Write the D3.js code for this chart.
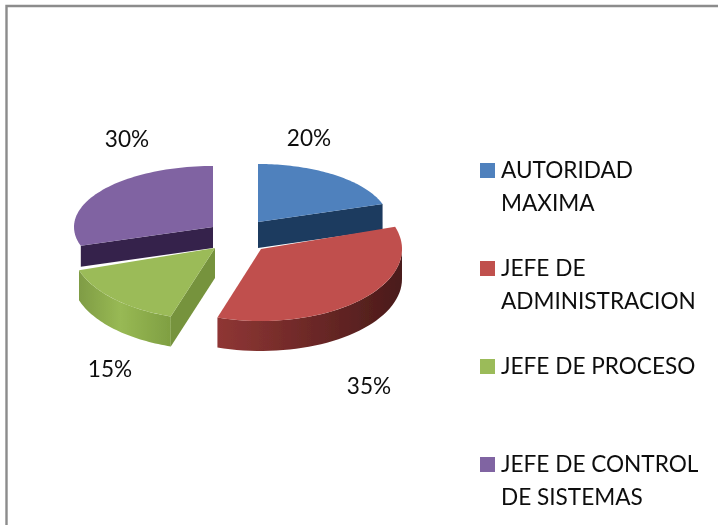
<!DOCTYPE html>
<html><head><meta charset="utf-8">
<script src="https://cdnjs.cloudflare.com/ajax/libs/d3/7.9.0/d3.min.js"></script>
<style>html,body{margin:0;padding:0;background:#fff}svg{display:block}text{font-family:Lato,"Open Sans",sans-serif;fill:#111}</style>
</head><body><div id="c"></div>
<script>
const categories = ["AUTORIDAD MAXIMA","JEFE DE ADMINISTRACION","JEFE DE PROCESO","JEFE DE CONTROL DE SISTEMAS"];
const legendLines = [["AUTORIDAD","MAXIMA"],["JEFE DE","ADMINISTRACION"],["JEFE DE PROCESO"],["JEFE DE CONTROL","DE SISTEMAS"]];
const values = [20,35,15,30];
const topColors = ["#4f81bd","#c0504d","#9bbb59","#8064a2"];
const wallStops = [null,["#8f3634","#4a1b1a"],["#7f9c45","#7f9f42"],null];
const cutColors = ["#1b3a5f",null,"#76933c","#36244b"];
const cutEdge = ["end",null,"start","start"];
const centers = [[258,222],[261,249],[215,248],[213,227]];
const radii = [[131,58],[141,72],[143,72],[139,61]];
const depths = [26,30,30,21];
const labelPos = [[309,146],[369,394],[110,377],[127,147]];
const W=718,H=525;
const svg=d3.select("#c").append("svg").attr("width",W).attr("height",H);
const defs=svg.append("defs");
defs.append("filter").attr("id","soft").append("feGaussianBlur").attr("stdDeviation",0.6);
defs.append("filter").attr("id","softText").append("feGaussianBlur").attr("stdDeviation",0.3);
svg.append("path").attr("d",`M6.5,${H} V6 H718`).attr("fill","none").attr("stroke","#8c8c8c").attr("stroke-width",2.4);

const arcs=d3.pie().sort(null)(values);
const pt=(i,a,dz=0)=>[centers[i][0]+radii[i][0]*Math.sin(a),centers[i][1]-radii[i][1]*Math.cos(a)+dz];
const line=d3.line();
const pie=svg.append("g").attr("filter","url(#soft)");
[3,0,2,1].forEach(i=>{
  const d=arcs[i],s=d.startAngle,e=d.endAngle,dz=depths[i],c=centers[i];
  const g=pie.append("g");
  if(wallStops[i]){
    const lo=Math.max(s,Math.PI/2),hi=Math.min(e,Math.PI*1.5);
    const id="wall"+i,x0=pt(i,lo)[0],x1=pt(i,hi)[0];
    const gr=defs.append("linearGradient").attr("id",id).attr("gradientUnits","userSpaceOnUse")
      .attr("x1",Math.max(x0,x1)).attr("x2",Math.min(x0,x1)).attr("y1",0).attr("y2",0);
    gr.append("stop").attr("offset",0).attr("stop-color",wallStops[i][1]);
    if(i===2) gr.append("stop").attr("offset",0.55).attr("stop-color","#98b954");
    gr.append("stop").attr("offset",1).attr("stop-color",wallStops[i][0]);
    const as=d3.range(0,41).map(k=>lo+(hi-lo)*k/40);
    const pts=as.map(a=>pt(i,a)).concat(as.slice().reverse().map(a=>pt(i,a,dz)));
    g.append("path").attr("d",line(pts)+"Z").attr("fill",`url(#${id})`);
  }
  if(cutColors[i]){
    const a=cutEdge[i]==="start"?s:e;
    g.append("path").attr("d",line([c,pt(i,a),pt(i,a,dz),[c[0],c[1]+dz]])+"Z").attr("fill",cutColors[i]);
  }
  const as=d3.range(0,61).map(k=>s+(e-s)*k/60);
  g.append("path").attr("d",line([c].concat(as.map(a=>pt(i,a))))+"Z").attr("fill",topColors[i]);
});
const texts=svg.append("g").attr("filter","url(#softText)");
texts.append("g").selectAll("text").data(values).join("text")
  .attr("x",(d,i)=>labelPos[i][0]).attr("y",(d,i)=>labelPos[i][1])
  .attr("text-anchor","middle").attr("font-size",22.6).text(d=>d+"%");
const legY=d3.scaleLinear().domain([0,3]).range([163,457]);
legendLines.forEach((ls,i)=>{
  svg.append("rect").attr("x",480).attr("y",legY(i)).attr("width",15).attr("height",15).attr("fill",topColors[i]);
  ls.forEach((t,j)=>texts.append("text").attr("x",501).attr("y",legY(i)+15+j*33).attr("font-size",22.6).text(t));
});
</script></body></html>
